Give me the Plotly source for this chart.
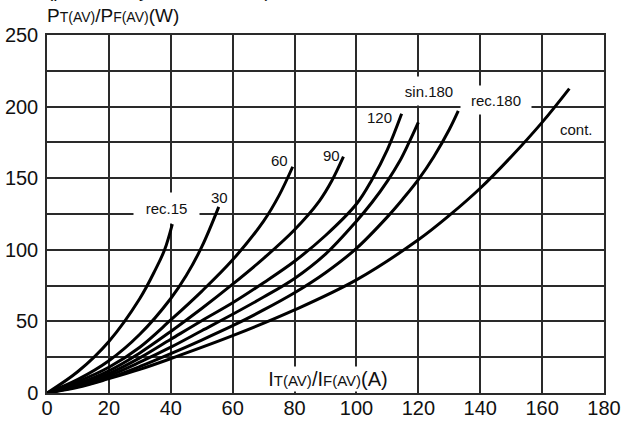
import plotly.graph_objects as go

# ---- data (current A, power W) ----
rec15_i = [0, 10, 20, 30, 35, 38, 40.5]
rec15_p = [0, 15, 36, 66, 86, 100, 118]

rec30_i = [0, 10, 20, 30, 40, 45, 50, 55.5]
rec30_p = [0, 9.5, 22.5, 41, 66, 82, 102, 130]

rec60_i = [0, 10, 20, 30, 40, 50, 60, 70, 75, 79.4]
rec60_p = [0, 8, 18, 32, 51, 71, 93, 120, 138, 158]

rec90_i = [0, 10, 20, 30, 40, 50, 60, 70, 80, 88, 92, 95.8]
rec90_p = [0, 6.5, 15.5, 28, 43, 59, 76, 94, 114, 134, 148, 165]

rec120_i = [0, 10, 20, 30, 40, 50, 60, 70, 80, 90, 100, 105, 110, 114.6]
rec120_p = [0, 5.5, 13.5, 24.5, 37.5, 50.5, 63, 77, 92, 110, 132, 149, 170, 195]

sin180_i = [0, 10, 20, 30, 40, 50, 60, 70, 80, 90, 100, 105, 110, 114, 117, 120]
sin180_p = [0, 5, 12, 21.5, 32, 43.5, 55, 67, 80, 97, 120, 133, 148, 162, 175, 189]

rec180_i = [0, 10, 20, 30, 40, 50, 60, 70, 80, 90, 100, 110, 115, 120, 125, 130, 132.9]
rec180_p = [0, 4.5, 10.5, 18.5, 27.5, 37, 47, 58, 70, 84, 101, 123, 135.5, 149, 165, 184, 197]

cont_i = [0, 10, 20, 30, 40, 60, 80, 100, 120, 130, 140, 150, 160, 168.8]
cont_p = [0, 4, 10, 16.5, 24, 40, 58, 79, 107, 124, 143, 165, 189, 212.6]

x_ticks = [0, 20, 40, 60, 80, 100, 120, 140, 160, 180]
y_ticks = [0, 50, 100, 150, 200, 250]

series = [
    (rec15_i, rec15_p), (rec30_i, rec30_p), (rec60_i, rec60_p), (rec90_i, rec90_p),
    (rec120_i, rec120_p), (sin180_i, sin180_p), (rec180_i, rec180_p), (cont_i, cont_p),
]

FONT = "Liberation Sans, Arial, sans-serif"
GRID = "#2a2a2a"
TXT = "#111"

fig = go.Figure()
for xs, ys in series:
    fig.add_trace(go.Scatter(
        x=xs, y=ys, mode="lines",
        line=dict(color="black", width=3, shape="spline", smoothing=1.0),
        showlegend=False, hoverinfo="skip",
    ))

fig.update_layout(
    width=625, height=421,
    margin=dict(l=47, r=21, t=35, b=28, autoexpand=False),
    paper_bgcolor="white", plot_bgcolor="white",
    font=dict(family=FONT, color=TXT, size=20),
    showlegend=False,
)
fig.update_xaxes(
    range=[0, 180], tickvals=x_ticks, showgrid=True, gridcolor=GRID, gridwidth=1.5,
    zeroline=False, showline=True, linecolor=GRID, linewidth=1.5, mirror=True,
    automargin=False,
    ticks="", ticklabelstandoff=-4, tickfont=dict(size=20, family=FONT, color=TXT),
)
fig.update_yaxes(
    range=[0, 250], tickvals=y_ticks, showgrid=True, gridcolor=GRID, gridwidth=1.5,
    minor=dict(dtick=25, showgrid=True, gridcolor=GRID, gridwidth=1.5),
    zeroline=False, showline=True, linecolor=GRID, linewidth=1.5, mirror=True,
    automargin=False,
    ticks="", ticklabelstandoff=3, tickfont=dict(size=20, family=FONT, color=TXT),
)

def lab(text, x, y, size=15, bg=None, w=None, h=None):
    d = dict(text=text, x=x, y=y, xref="x", yref="y", showarrow=False,
             font=dict(size=size, family=FONT, color=TXT),
             xanchor="center", yanchor="middle")
    if bg:
        d.update(bgcolor=bg, width=w, height=h)
    fig.add_annotation(**d)

lab("rec.15", 38.6, 129.2, bg="white", w=63, h=28)
lab("30", 55.9, 136.2)
lab("60", 75.1, 162.7)
lab("90", 91.8, 166.2)
lab("120", 107.6, 192.7)
lab("sin.180", 123.5, 210.9, bg="white", w=58, h=26)
lab("rec.180", 145.1, 204.6, bg="white", w=68, h=26)
lab("cont.", 171, 184.1)

sub = "<span style='font-size:15px'>%s</span>"
lab("I" + sub % "T(AV)" + "/I" + sub % "F(AV)" + "(A)", 90.8, 9.8, size=20,
    bg="white", w=138, h=22)

sub_y = "<span style='font-size:14px'>%s</span>"
fig.add_annotation(
    text="P" + sub_y % "T(AV)" + "/P" + sub_y % "F(AV)" + "(W)",
    xref="paper", yref="paper", x=-0.004, y=1.02, xanchor="left", yanchor="bottom",
    showarrow=False, font=dict(size=19, family=FONT, color=TXT),
)
fig.add_annotation(
    text="(per one thyristor or diode)",
    xref="paper", yref="paper", x=-0.004, y=1.088, xanchor="left", yanchor="bottom",
    showarrow=False, font=dict(size=19, family=FONT, color=TXT),
)

fig.write_html("out.html", config={"displayModeBar": False},
               post_script="document.body.style.margin='0px';")
